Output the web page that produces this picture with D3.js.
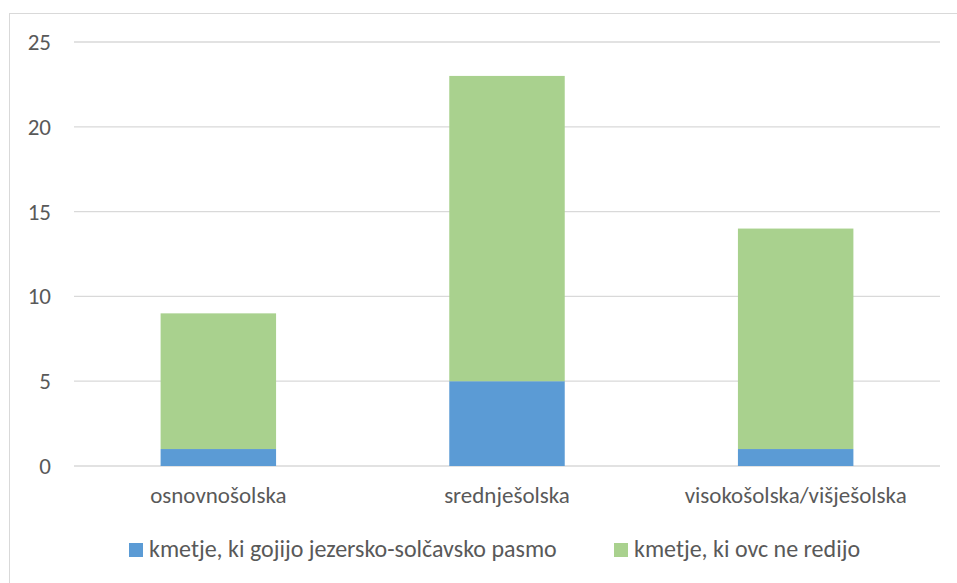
<!DOCTYPE html>
<html><head><meta charset="utf-8">
<script src="https://cdn.jsdelivr.net/npm/d3@7"></script>
<style>body{margin:0;background:#fff}svg{display:block}text{font-family:Carlito,Calibri,"Open Sans","Noto Sans",sans-serif;fill:#595959}</style>
</head><body>
<svg id="c" width="957" height="583"></svg>
<script>
const categories = ["osnovnošolska", "srednješolska", "visokošolska/višješolska"];
const seriesNames = ["kmetje, ki gojijo jezersko-solčavsko pasmo", "kmetje, ki ovc ne redijo"];
const gojijo = [1, 5, 1];
const neRedijo = [8, 18, 13];
const yTicks = [0, 5, 10, 15, 20, 25];
const colors = ["#5B9BD5", "#A9D18E"];

const svg = d3.select("#c");
svg.append("rect").attr("x", 9.5).attr("y", 13.5).attr("width", 970).attr("height", 600)
  .attr("fill", "none").attr("stroke", "#D9D9D9");

const x = d3.scaleBand().domain(categories).range([74, 940]).paddingInner(0.6).paddingOuter(0.3);
const y = d3.scaleLinear().domain([0, 25]).range([466, 42]);

const g = svg.append("g");
g.selectAll("line.grid").data(yTicks).enter().append("line")
  .attr("x1", 74).attr("x2", 940).attr("y1", d => y(d)).attr("y2", d => y(d))
  .attr("stroke", "#D9D9D9").attr("stroke-width", 1.3);
g.selectAll("text.yt").data(yTicks).enter().append("text")
  .attr("x", 51).attr("y", d => y(d)).attr("dy", "0.35em").attr("text-anchor", "end")
  .attr("font-size", 23).text(d => d);

const data = categories.map((c, i) => ({cat: c, a: gojijo[i], b: neRedijo[i]}));
const stack = d3.stack().keys(["a", "b"])(data);
stack.forEach((s, si) => {
  g.selectAll("rect.s" + si).data(s).enter().append("rect")
    .attr("x", d => x(d.data.cat)).attr("width", x.bandwidth())
    .attr("y", d => y(d[1])).attr("height", d => y(d[0]) - y(d[1]))
    .attr("fill", colors[si]);
});

g.selectAll("text.xt").data(categories).enter().append("text")
  .attr("x", d => x(d) + x.bandwidth() / 2).attr("y", 503)
  .attr("text-anchor", "middle").attr("font-size", 23).text(d => d);

const legX = [129, 614];
seriesNames.forEach((n, i) => {
  svg.append("rect").attr("x", legX[i]).attr("y", 543).attr("width", 14).attr("height", 14).attr("fill", colors[i]);
  svg.append("text").attr("x", legX[i] + 20).attr("y", 557).attr("font-size", 24).text(n);
});
</script>
</body></html>
